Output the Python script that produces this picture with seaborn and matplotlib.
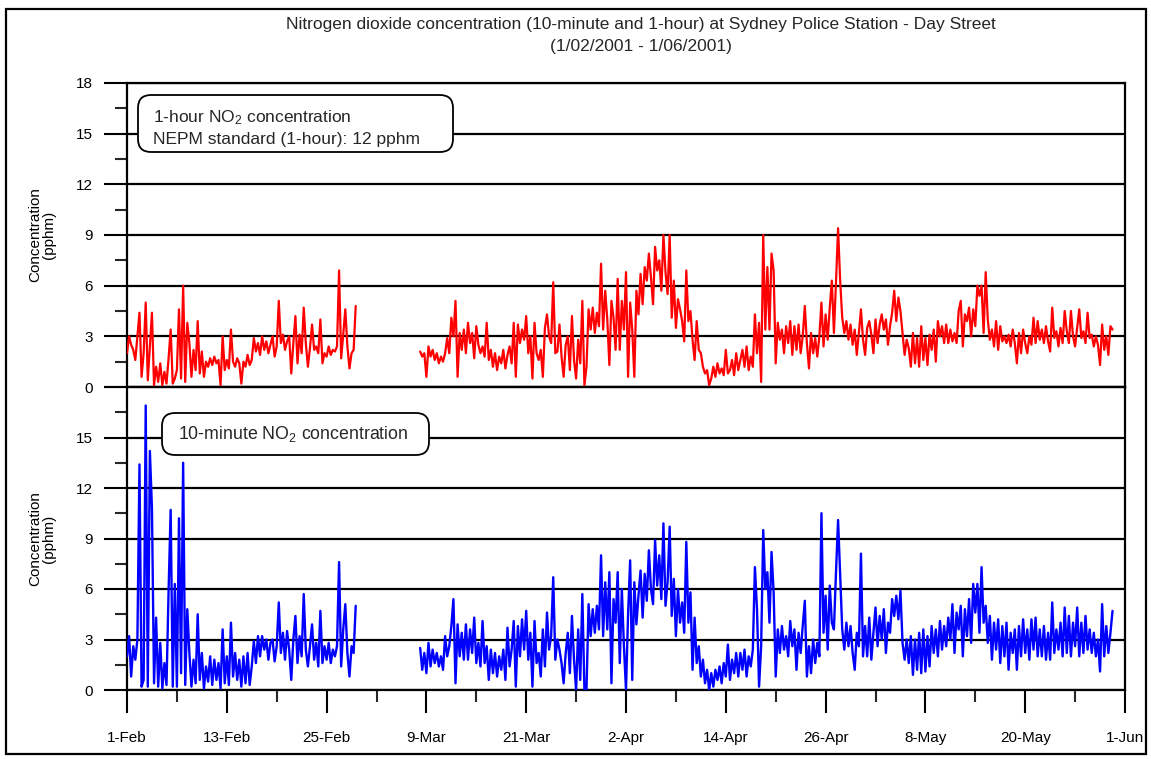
import numpy as np
import pandas as pd
import matplotlib
matplotlib.use("Agg")
import matplotlib.pyplot as plt
import matplotlib.dates as mdates
from matplotlib.ticker import MultipleLocator, FuncFormatter, FixedLocator
from matplotlib.patches import FancyBboxPatch, Rectangle
import seaborn as sns

sns.set_theme(style="ticks")
plt.rcParams["font.family"] = ["Liberation Sans", "DejaVu Sans"]
plt.rcParams["mathtext.fontset"] = "custom"
plt.rcParams["mathtext.rm"] = "Liberation Sans"
plt.rcParams["mathtext.it"] = "Liberation Sans"
plt.rcParams["mathtext.default"] = "rm"

nan = np.nan
start = pd.Timestamp("2001-02-01")
end = pd.Timestamp("2001-06-01")
step = "6h"  # four readings per day

title_line1 = "Nitrogen dioxide concentration (10-minute and 1-hour) at Sydney Police Station - Day Street"
title_line2 = "(1/02/2001 - 1/06/2001)"
ylabel = "Concentration\n(pphm)"
label_1h = "1-hour NO$_2$ concentration\nNEPM standard (1-hour): 12 pphm"
label_10m = "10-minute NO$_2$ concentration"

# ---- 1-hour NO2 (pphm), 6-hourly readings ----
no2_1h_feb = [
    2.0, 3.0, 2.5, 2.2,  1.6, 3.0, 4.4, 0.6,  2.0, 5.0, 0.4, 2.4,  4.4, 0.1, 1.2, 0.3,
    1.4, 0.1, 0.9, 0.2,  1.7, 3.4, 0.2, 0.5,  1.0, 4.6, 0.5, 6.0,  0.3, 3.8, 2.6, 0.6,
    2.2, 1.0, 3.9, 0.8,  2.1, 0.6, 1.5, 1.2,  1.7, 1.3, 1.8, 1.4,  1.6, 0.1, 3.0, 1.0,
    1.6, 1.1, 3.4, 1.5,  1.2, 1.7, 1.4, 0.2,  1.5, 1.2, 1.9, 1.3,  1.6, 2.9, 2.1, 2.6,
    1.9, 3.0, 2.2, 2.7,  2.0, 2.5, 3.0, 1.8,  2.4, 5.1, 2.6, 3.1,  2.2, 2.7, 3.0, 0.8,
    2.6, 4.2, 1.4, 3.1,  2.0, 4.7, 2.6, 1.2,  2.3, 3.7, 2.2, 2.4,  2.0, 4.0, 1.4, 2.0,
    1.8, 2.4, 1.9, 2.2,  2.1, 2.4, 6.9, 1.7,  3.1, 4.6, 2.4, 1.1,  2.0, 2.2, 4.8, nan,
]
no2_1h_mar = [nan] * 28 + [
    nan, 2.1, 1.8, 2.0,  0.6, 2.4, 1.8, 2.2,  1.6, 2.0, 1.4, 1.8,  1.5, 2.0, 2.9, 2.0,
    4.1, 3.0, 5.1, 0.6,  3.2, 2.2, 3.4, 2.0,  3.8, 2.6, 3.2, 1.7,  3.6, 2.5, 2.0, 2.4,
    1.8, 3.8, 1.6, 2.2,  1.2, 2.0, 1.0, 1.8,  1.4, 2.2, 1.1, 1.9,  2.4, 1.4, 3.8, 0.6,
    3.7, 2.6, 3.4, 2.8,  4.2, 2.0, 3.0, 0.5,  3.8, 2.0, 1.6, 2.2,  0.6, 3.5, 4.3, 3.0,
    2.6, 6.2, 2.0, 2.1,  3.7, 1.8, 0.6, 2.5,  3.0, 1.0, 4.2, 1.6,  0.5, 2.8, 1.4, 5.1,
    0.1, 1.2, 4.6, 3.4,  4.7, 3.2, 4.4, 3.6,  7.3, 3.4, 5.7, 4.0,  1.3, 5.1, 4.1, 2.2,
]
no2_1h_apr = [
    6.4, 2.2, 5.1, 3.4,  6.8, 0.6, 5.0, 3.4,  0.6, 5.7, 4.3, 6.7,  4.9, 7.1, 6.3, 7.9,
    6.5, 4.9, 8.3, 6.9,  7.5, 5.7, 9.0, 6.8,  5.5, 9.0, 4.1, 6.3,  3.5, 5.2, 4.6, 3.9,
    2.7, 6.9, 3.9, 4.5,  2.8, 1.6, 3.9, 2.2,  2.0, 1.2, 0.8, 1.0,  0.1, 0.5, 1.2, 0.6,
    1.4, 0.8, 1.1, 0.7,  2.2, 0.8, 1.0, 1.6,  0.7, 2.0, 1.0, 1.6,  2.2, 1.2, 2.4, 1.0,
    1.8, 1.2, 4.3, 2.0,  3.8, 0.3, 9.0, 3.4,  7.1, 3.4, 7.9, 6.9,  1.4, 3.8, 2.8, 3.4,
    2.0, 3.6, 2.6, 3.9,  1.9, 3.6, 2.2, 3.7,  2.0, 3.0, 4.8, 2.6,  1.1, 3.2, 2.0, 2.9,
    1.8, 3.0, 5.0, 2.4,  4.3, 2.8, 4.7, 6.3,  3.2, 6.2, 9.4, 6.3,  4.1, 3.2, 3.9, 2.8,
    3.7, 2.5, 3.4, 1.9,  3.2, 4.6, 2.8, 1.9,
]
no2_1h_may = [
    3.5, 3.9, 3.1, 2.0,  4.0, 2.6, 3.7, 4.3,  3.4, 4.0, 2.5, 3.6,  4.4, 5.7, 3.9, 5.3,
    4.5, 3.2, 1.9, 2.8,  2.3, 1.2, 3.2, 1.4,  2.9, 1.2, 3.6, 1.6,  2.9, 1.3, 3.1, 2.2,
    3.4, 1.5, 3.9, 3.0,  3.6, 2.6, 3.7, 2.6,  3.4, 2.7, 3.2, 2.6,  4.5, 5.1, 2.4, 4.3,
    3.9, 4.7, 3.0, 4.6,  3.6, 6.0, 5.4, 6.0,  3.2, 6.8, 4.0, 2.8,  3.4, 2.4, 3.9, 2.2,
    3.6, 2.7, 3.0, 2.6,  3.1, 2.4, 3.4, 2.6,  1.4, 3.2, 2.0, 3.4,  2.6, 2.0, 3.0, 2.5,
    4.1, 2.6, 3.9, 2.8,  3.4, 2.6, 3.6, 2.7,  2.1, 4.7, 2.9, 3.3,  2.4, 3.5, 2.6, 4.5,
    3.3, 2.6, 4.5, 3.0,  2.4, 3.5, 4.6, 2.9,  3.3, 2.6, 4.4, 2.9,  3.1, 2.4, 3.0, 2.5,
    1.3, 3.7, 2.2, 3.0,  1.9, 3.6, 3.4, nan,  nan, nan, nan, nan,
]

# ---- 10-minute NO2 (pphm), 6-hourly readings ----
no2_10m_feb = [
    2.0, 3.2, 0.8, 2.6,  1.8, 3.0, 13.4, 0.2,  0.6, 16.9, 0.2, 14.2,  10.8, 0.4, 4.3, 0.2,
    2.8, 0.1, 1.6, 0.3,  5.9, 10.7, 0.2, 6.3,  0.2, 10.2, 1.0, 13.5,  0.3, 4.8, 2.2, 0.2,
    1.8, 0.4, 4.5, 0.6,  2.2, 0.1, 1.4, 0.5,  2.0, 0.3, 1.8, 0.6,  1.6, 0.1, 3.6, 0.4,
    2.0, 0.3, 4.0, 0.8,  2.2, 0.6, 1.8, 0.2,  2.0, 0.4, 2.2, 0.3,  1.4, 2.9, 1.6, 3.2,
    2.0, 3.2, 2.4, 3.0,  1.8, 2.8, 3.0, 1.7,  2.6, 5.2, 2.2, 3.4,  1.8, 3.5, 2.4, 0.6,
    3.0, 4.4, 1.6, 3.2,  2.0, 5.7, 2.4, 1.4,  2.6, 3.9, 1.8, 2.8,  1.4, 4.7, 1.6, 2.6,
    1.8, 2.8, 1.6, 2.4,  2.0, 2.6, 7.6, 1.4,  3.6, 5.1, 2.2, 0.8,  2.6, 2.2, 5.0, nan,
]
no2_10m_mar = [nan] * 28 + [
    nan, 2.5, 1.2, 2.2,  1.0, 2.8, 1.4, 2.4,  1.6, 2.2, 1.4, 2.0,  1.2, 3.2, 2.0, 2.6,
    3.8, 5.4, 0.4, 3.9,  2.0, 3.4, 1.8, 3.9,  1.8, 3.6, 2.2, 4.3,  1.6, 2.8, 1.4, 4.1,
    1.6, 2.6, 0.6, 2.4,  1.0, 2.2, 0.8, 2.0,  1.2, 2.4, 0.6, 3.7,  1.4, 2.4, 4.1, 0.2,
    3.8, 2.0, 4.2, 2.4,  4.7, 1.8, 3.4, 0.2,  4.1, 1.6, 2.2, 0.8,  3.6, 1.4, 4.6, 2.4,
    3.2, 6.7, 1.8, 3.0,  2.4, 1.6, 0.4, 2.2,  3.4, 1.0, 4.4, 1.8,  0.0, 3.6, 0.6, 5.7,
    0.0, 0.0, 5.1, 3.2,  4.8, 3.4, 5.0, 3.6,  8.0, 3.2, 6.4, 3.6,  7.0, 0.4, 5.4, 4.0,
]
no2_10m_apr = [
    7.0, 1.6, 6.0, 2.6,  0.0, 4.5, 7.7, 0.6,  6.4, 3.9, 5.6, 7.1,  4.3, 6.9, 5.3, 8.3,
    6.0, 5.1, 8.9, 6.2,  8.0, 5.4, 9.9, 5.0,  6.4, 9.7, 4.4, 6.6,  3.2, 6.0, 4.0, 5.2,
    3.4, 8.8, 4.0, 5.8,  1.2, 4.3, 1.6, 2.6,  0.8, 1.8, 0.4, 1.2,  0.0, 1.0, 0.2, 1.2,
    0.6, 1.4, 0.4, 1.6,  0.8, 2.7, 0.6, 1.8,  1.0, 2.2, 0.8, 2.2,  1.2, 2.4, 0.8, 2.0,
    1.4, 2.4, 7.3, 4.8,  0.2, 2.6, 9.5, 6.0,  7.0, 4.0, 8.2, 5.8,  0.8, 3.6, 2.2, 3.8,
    2.4, 3.2, 2.0, 4.1,  2.6, 3.6, 1.2, 3.4,  2.2, 3.8, 5.3, 0.8,  2.6, 1.0, 3.0, 1.6,
    2.8, 2.0, 10.5, 3.4,  5.6, 2.4, 6.2, 4.0,  3.6, 7.0, 10.1, 6.8,  3.6, 2.4, 4.0, 2.6,
    3.8, 2.2, 1.2, 3.4,  2.6, 8.1, 2.0, 3.8,
]
no2_10m_may = [
    2.0, 4.3, 1.8, 3.4,  4.9, 2.6, 4.4, 3.0,  4.8, 2.2, 4.0, 3.4,  5.4, 4.4, 5.6, 4.2,
    5.9, 2.8, 1.8, 3.0,  1.6, 3.2, 0.9, 3.0,  1.2, 3.4, 1.0, 3.6,  1.1, 3.2, 1.4, 3.8,
    2.2, 3.6, 2.0, 4.1,  2.4, 3.8, 2.6, 4.3,  3.0, 5.1, 2.2, 4.6,  3.6, 5.0, 2.0, 4.8,
    3.2, 5.4, 2.8, 6.3,  4.6, 6.3, 3.4, 7.3,  4.0, 5.0, 2.8, 4.4,  1.8, 4.0, 2.4, 4.2,
    1.6, 3.8, 2.0, 4.0,  1.2, 3.4, 2.2, 3.6,  1.2, 3.8, 2.0, 4.2,  2.2, 3.6, 1.8, 4.2,
    2.4, 4.3, 2.0, 3.6,  2.0, 3.8, 1.8, 3.4,  1.8, 5.2, 2.2, 3.6,  2.4, 4.0, 2.0, 4.9,
    2.2, 4.4, 2.0, 4.0,  2.6, 4.9, 2.0, 4.0,  2.2, 4.4, 2.4, 3.6,  2.2, 3.4, 2.0, 3.0,
    1.1, 5.1, 2.0, 3.8,  2.2, 3.4, 4.7, nan,  nan, nan, nan, nan,
]

y_ticks = [0, 3, 6, 9, 12, 15, 18]


def build(parts):
    vals = np.concatenate([np.asarray(p, dtype=float) for p in parts])
    t = pd.date_range(start, periods=len(vals), freq=step)
    df = pd.DataFrame({"time": t, "conc": vals})
    df["seg"] = df["conc"].isna().cumsum()
    return df.dropna()


df_1h = build([no2_1h_feb, no2_1h_mar, no2_1h_apr, no2_1h_may])
df_10m = build([no2_10m_feb, no2_10m_mar, no2_10m_apr, no2_10m_may])

W, H = 1151, 759
fig = plt.figure(figsize=(W / 100, H / 100), dpi=100)
fig.patch.set_facecolor("white")

ax_l, ax_r = 127, 1125
top_t, mid, bot_b = 83, 387, 690
ax1 = fig.add_axes([ax_l / W, 1 - mid / H, (ax_r - ax_l) / W, (mid - top_t) / H])
ax2 = fig.add_axes([ax_l / W, 1 - bot_b / H, (ax_r - ax_l) / W, (bot_b - mid) / H], sharex=ax1)

sns.lineplot(data=df_1h, x="time", y="conc", units="seg", estimator=None,
             color="#ff0000", lw=1.6, ax=ax1, legend=False, zorder=3)
sns.lineplot(data=df_10m, x="time", y="conc", units="seg", estimator=None,
             color="#0000ff", lw=1.7, ax=ax2, legend=False, zorder=3)

major_dates = mdates.date2num(pd.date_range(start, end, freq="12D"))
minor_dates = mdates.date2num(pd.date_range(start + pd.Timedelta(days=6), end, freq="12D"))

for ax in (ax1, ax2):
    ax.set_ylim(0, 18)
    ax.set_facecolor("white")
    ax.set_axisbelow(True)
    ax.yaxis.set_major_locator(FixedLocator(y_ticks))
    ax.yaxis.set_minor_locator(MultipleLocator(1.5))
    ax.yaxis.grid(True, which="major", color="black", lw=1.6)
    ax.xaxis.grid(False)
    for s in ax.spines.values():
        s.set_visible(True)
        s.set_color("black")
        s.set_linewidth(1.6)
    ax.tick_params(axis="y", which="major", direction="out", length=16.5, width=1.5,
                   pad=8, labelsize=11, colors="black")
    ax.tick_params(axis="y", which="minor", direction="out", length=9, width=1.5)
    ax.set_ylabel(ylabel, fontsize=11, color="black", linespacing=1.0)
    ax.yaxis.set_label_coords(-0.071, 0.5)
    ax.set_xlabel("")

ax1.tick_params(axis="x", which="both", bottom=False, labelbottom=False)
ax2.yaxis.set_major_formatter(FuncFormatter(lambda v, p: "" if v >= 18 else f"{v:.0f}"))

ax2.set_xlim(start, end)
ax2.xaxis.set_major_locator(FixedLocator(major_dates))
ax2.xaxis.set_minor_locator(FixedLocator(minor_dates))
ax2.xaxis.set_major_formatter(mdates.DateFormatter("%-d-%b"))
ax2.tick_params(axis="x", which="major", direction="out", length=16.5, width=1.5,
                pad=13, labelsize=11, colors="black")
ax2.tick_params(axis="x", which="minor", direction="out", length=8.5, width=1.5)

# title
fig.text(641 / W, 1 - 25 / H, title_line1, ha="center", va="center", fontsize=12.5)
fig.text(641 / W, 1 - 46 / H, title_line2, ha="center", va="center", fontsize=12.5)


def px_box(x0, y0, x1, y1, r=13):
    box = FancyBboxPatch((x0 / 100, (H - y1) / 100), (x1 - x0) / 100, (y1 - y0) / 100,
                         boxstyle=f"round,pad=0,rounding_size={r / 100}",
                         transform=fig.dpi_scale_trans, fc="white", ec="black",
                         lw=1.3, zorder=10)
    fig.add_artist(box)


px_box(138, 95, 453, 152)
fig.text(153 / W, 1 - 128 / H, label_1h, ha="left", va="center", fontsize=12.5,
         linespacing=1.4, zorder=11)
px_box(162, 413, 429, 455)
fig.text(178 / W, 1 - 434 / H, label_10m, ha="left", va="center", fontsize=12.8, zorder=11)

# outer frame
fig.add_artist(Rectangle((6 / W, 1 - 754 / H), (1146 - 6) / W, (754 - 9) / H,
                         transform=fig.transFigure, fill=False, ec="black", lw=1.6))

fig.savefig("out.png", dpi=100)
